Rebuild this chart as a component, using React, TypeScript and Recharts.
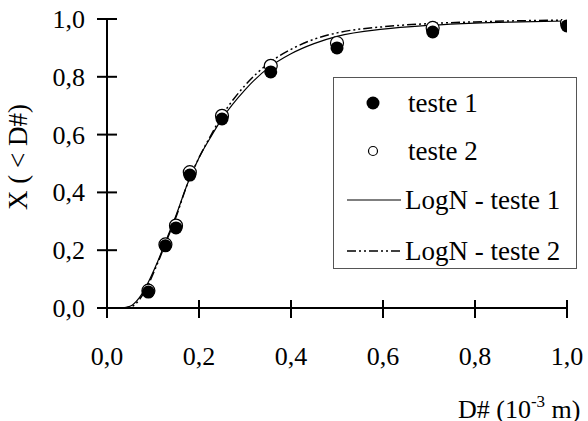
import React from "react"
import { ComposedChart, Line, Scatter, XAxis, YAxis, Legend, Label } from "recharts"

// measured points
const pointX = [0.09, 0.127, 0.15, 0.18, 0.25, 0.356, 0.5, 0.708, 1.0]
const teste1Y = [0.055, 0.215, 0.277, 0.46, 0.654, 0.817, 0.9, 0.955, 0.976]
const teste2Y = [0.06, 0.22, 0.285, 0.47, 0.665, 0.838, 0.917, 0.969, 0.986]

// fitted log-normal curves
const curveX = [0.03, 0.05, 0.07, 0.09, 0.11, 0.13, 0.15, 0.175, 0.2, 0.225, 0.25, 0.3, 0.35, 0.4, 0.45, 0.5, 0.6, 0.7, 0.8, 0.9, 1.0]
const logN1Y = [0, 0.006, 0.035, 0.09, 0.16, 0.24, 0.32, 0.43, 0.52, 0.59, 0.655, 0.755, 0.83, 0.88, 0.915, 0.94, 0.965, 0.978, 0.986, 0.99, 0.993]
const logN2Y = [0, 0.003, 0.028, 0.082, 0.155, 0.235, 0.315, 0.43, 0.52, 0.595, 0.665, 0.77, 0.845, 0.895, 0.93, 0.952, 0.973, 0.984, 0.99, 0.994, 0.996]

const ticks = [0, 0.2, 0.4, 0.6, 0.8, 1.0]
const seriesNames = ["teste 1", "teste 2", "LogN - teste 1", "LogN - teste 2"]

const toPts = (xs: number[], ys: number[]) => xs.map((x, i) => ({ x, y: ys[i] }))
const teste1 = toPts(pointX, teste1Y)
const teste2 = toPts(pointX, teste2Y)
const logN1 = toPts(curveX, logN1Y)
const logN2 = toPts(curveX, logN2Y)

const FONT = "Liberation Serif"
const DASH = "9 3 2 3 2 3"
const fmt = (v: number) => v.toFixed(1).replace(".", ",")

function YTick(props: any) {
  const { x, y, payload } = props
  return (
    <g>
      <line x1={x - 10} x2={x + 10} y1={y} y2={y} stroke="#000" strokeWidth={2} />
      <text x={x - 22} y={y + 9} textAnchor="end" fontSize={26} fontFamily={FONT} fill="#000">
        {fmt(payload.value)}
      </text>
    </g>
  )
}

function XTick(props: any) {
  const { x, y, payload } = props
  return (
    <g>
      <line x1={x} x2={x} y1={y - 8} y2={y + 10} stroke="#000" strokeWidth={2} />
      <text x={x} y={y + 57} textAnchor="middle" fontSize={26} fontFamily={FONT} fill="#000">
        {fmt(payload.value)}
      </text>
    </g>
  )
}

function LegendBox() {
  const rows = [103, 151, 200, 251]
  return (
    <svg width={244} height={192} style={{ display: "block" }}>
      <rect x={0.5} y={0.5} width={243} height={191} fill="#fff" stroke="#555" strokeWidth={1} />
      <circle cx={40} cy={rows[0] - 77} r={6.5} fill="#000" />
      <circle cx={40} cy={rows[1] - 77} r={4.5} fill="#fff" stroke="#000" strokeWidth={1.2} />
      <line x1={14} x2={68} y1={rows[2] - 77} y2={rows[2] - 77} stroke="#000" strokeWidth={1.2} />
      <line x1={14} x2={68} y1={rows[3] - 77} y2={rows[3] - 77} stroke="#000" strokeWidth={1.5} strokeDasharray={DASH} />
      {seriesNames.map((name, i) => (
        <text key={name} x={i < 2 ? 75 : 72} y={rows[i] - 77 + 9} fontSize={27} fontFamily={FONT} fill="#000">
          {name}
        </text>
      ))}
    </svg>
  )
}

export default function App() {
  return (
    <div style={{ position: "absolute", left: 0, top: 0, background: "#fff" }}>
      <ComposedChart width={588} height={421} margin={{ top: 19, right: 21, bottom: 0, left: 0 }}>
        <XAxis
          type="number"
          dataKey="x"
          domain={[0, 1]}
          ticks={ticks}
          height={113}
          tickSize={0}
          tickMargin={0}
          tickLine={false}
          tick={<XTick />}
          axisLine={{ stroke: "#000", strokeWidth: 2 }}
          allowDataOverflow
        >
          <Label
            content={() => (
              <text x={458} y={418} fontSize={26} fontFamily={FONT} fill="#000">
                D# (10
                <tspan dy={-11} fontSize={17}>-3</tspan>
                <tspan dy={11} fontSize={26}> m)</tspan>
              </text>
            )}
          />
        </XAxis>
        <YAxis
          type="number"
          dataKey="y"
          domain={[0, 1]}
          ticks={ticks}
          width={107}
          tickSize={0}
          tickMargin={0}
          tickLine={false}
          tick={<YTick />}
          axisLine={{ stroke: "#000", strokeWidth: 2 }}
          allowDataOverflow
        >
          <Label
            content={() => (
              <text
                x={27}
                y={157}
                transform="rotate(-90 27 157)"
                textAnchor="middle"
                fontSize={27}
                fontFamily={FONT}
                fill="#000"
              >
                X ( &lt; D#)
              </text>
            )}
          />
        </YAxis>
        <Legend
          layout="vertical"
          align="center"
          verticalAlign="middle"
          content={() => <LegendBox />}
          wrapperStyle={{ position: "absolute", left: 333, top: 77, width: 244, height: 192 }}
        />
        <Line data={logN1} dataKey="y" type="monotone" stroke="#000" strokeWidth={1.2} dot={false} isAnimationActive={false} legendType="none" />
        <Line data={logN2} dataKey="y" type="monotone" stroke="#000" strokeWidth={1.5} strokeDasharray={DASH} dot={false} isAnimationActive={false} legendType="none" />
        <Scatter data={teste2} dataKey="y" fill="#fff" stroke="#000" strokeWidth={1.2} isAnimationActive={false}
          shape={(p: any) => <circle cx={p.cx} cy={p.cy} r={6.5} fill="#fff" stroke="#000" strokeWidth={1.2} />} />
        <Scatter data={teste1} dataKey="y" fill="#000" isAnimationActive={false}
          shape={(p: any) => <circle cx={p.cx} cy={p.cy} r={6.5} fill="#000" />} />
      </ComposedChart>
    </div>
  )
}
